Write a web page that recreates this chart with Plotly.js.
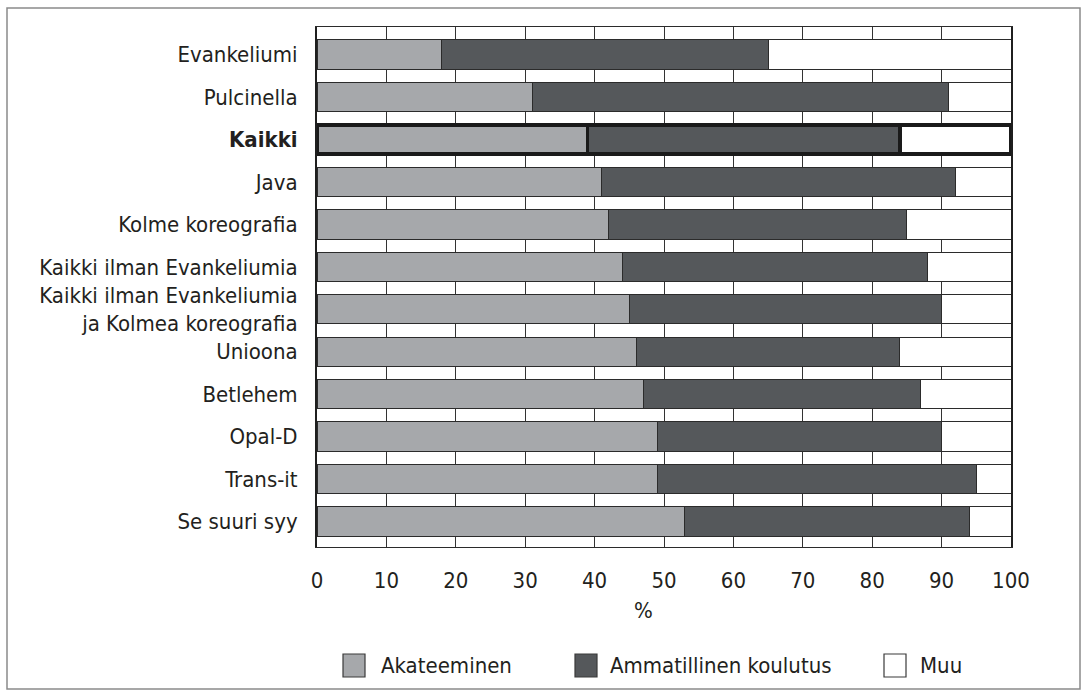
<!DOCTYPE html>
<html>
<head>
<meta charset="utf-8">
<script src="https://cdn.plot.ly/plotly-3.0.1.min.js"></script>
<style>
html,body{margin:0;padding:0;background:#fff;}
#chart{width:1087px;height:695px;}
</style>
</head>
<body>
<div id="chart"></div>
<script>
const categories = [
  "Evankeliumi",
  "Pulcinella",
  "Kaikki",
  "Java",
  "Kolme koreografia",
  "Kaikki ilman Evankeliumia",
  "Kaikki ilman Evankeliumia ja Kolmea koreografia",
  "Unioona",
  "Betlehem",
  "Opal-D",
  "Trans-it",
  "Se suuri syy"
];
const tickLabels = [
  "Evankeliumi",
  "Pulcinella",
  "<b>Kaikki</b>",
  "Java",
  "Kolme koreografia",
  "Kaikki ilman Evankeliumia",
  "Kaikki ilman Evankeliumia<br>ja Kolmea koreografia",
  "Unioona",
  "Betlehem",
  "Opal-D",
  "Trans-it",
  "Se suuri syy"
];
const akateeminen  = [18, 31, 39, 41, 42, 44, 45, 46, 47, 49, 49, 53];
const ammatillinen = [47, 60, 45, 51, 43, 44, 45, 38, 40, 41, 46, 41];
const muu          = [35,  9, 16,  8, 15, 12, 10, 16, 13, 10,  5,  6];
const seriesNames  = ["Akateeminen", "Ammatillinen koulutus", "Muu"];
const xTicks = [0, 10, 20, 30, 40, 50, 60, 70, 80, 90, 100];

const FONT = "'Liberation Sans Narrow', 'Arial Narrow', 'DejaVu Sans Condensed', sans-serif";
const FS = 22;
const TXT = "#231f20";
const colors = ["#a6a8ab", "#55585b", "#ffffff"];
const lineW = categories.map(c => c === "Kaikki" ? 3.5 : 1);
const lineC = categories.map(c => c === "Kaikki" ? "#1a1a1a" : "#2b2b2b");

const series = [akateeminen, ammatillinen, muu];
const traces = series.map((vals, i) => ({
  type: "bar",
  orientation: "h",
  name: seriesNames[i],
  y: categories,
  x: vals,
  marker: {color: colors[i], line: {color: lineC, width: lineW}},
  showlegend: false,
  hoverinfo: "x+y+name"
}));

// plot area in pixels: x 317..1011, y 27..547
const L = 317, R = 1011, T = 27, B = 547;
const px = v => (v - L) / (R - L);
const py = v => (B - v) / (B - T);

const shapes = [];
const annotations = [];
// outer frame
shapes.push({type: "rect", xref: "paper", yref: "paper",
  x0: px(7), x1: px(1080), y0: py(8), y1: py(689),
  line: {color: "#8a8a8a", width: 1.5}, fillcolor: "rgba(0,0,0,0)", layer: "below"});

// legend (squares + labels)
const legendItems = [
  {sq0: 343, sq1: 365, tx: 379},
  {sq0: 575, sq1: 597, tx: 608},
  {sq0: 884, sq1: 906, tx: 918}
];
legendItems.forEach((it, i) => {
  shapes.push({type: "rect", xref: "paper", yref: "paper",
    x0: px(it.sq0), x1: px(it.sq1), y0: py(677), y1: py(654),
    line: {color: "#3a3a3a", width: 1.2}, fillcolor: colors[i]});
  annotations.push({xref: "paper", yref: "paper", x: px(it.tx), y: py(665),
    xanchor: "left", yanchor: "middle", showarrow: false,
    text: seriesNames[i], font: {family: FONT, size: FS, color: TXT}});
});
// x axis title "%"
annotations.push({xref: "paper", yref: "paper", x: px(643), y: py(610),
  xanchor: "center", yanchor: "middle", showarrow: false,
  text: "%", font: {family: FONT, size: FS, color: TXT}});

const layout = {
  width: 1087, height: 695,
  margin: {l: L, r: 1087 - R, t: T, b: 695 - B, pad: 0},
  paper_bgcolor: "#ffffff", plot_bgcolor: "#ffffff",
  barmode: "stack", bargap: 0.31,
  font: {family: FONT, size: FS, color: TXT},
  xaxis: {
    range: [0, 100], tickvals: xTicks, ticktext: xTicks.map(String),
    showgrid: true, gridcolor: "#333333", gridwidth: 1,
    zeroline: false, showline: true, linecolor: "#2b2b2b", linewidth: 1.2, mirror: true,
    ticks: "", ticklabelstandoff: 13,
    tickfont: {family: FONT, size: FS, color: TXT}, fixedrange: true
  },
  yaxis: {
    type: "category", categoryorder: "array", categoryarray: categories,
    tickvals: categories, ticktext: tickLabels,
    range: [11.6, -0.65],
    showgrid: false, zeroline: false,
    showline: true, linecolor: "#1f1f1f", linewidth: 2, mirror: true,
    ticks: "", ticklabelstandoff: 13,
    tickfont: {family: FONT, size: FS, color: TXT}, fixedrange: true
  },
  shapes: shapes,
  annotations: annotations,
  showlegend: false
};

Plotly.newPlot("chart", traces, layout, {displayModeBar: false, staticPlot: true});
</script>
</body>
</html>
